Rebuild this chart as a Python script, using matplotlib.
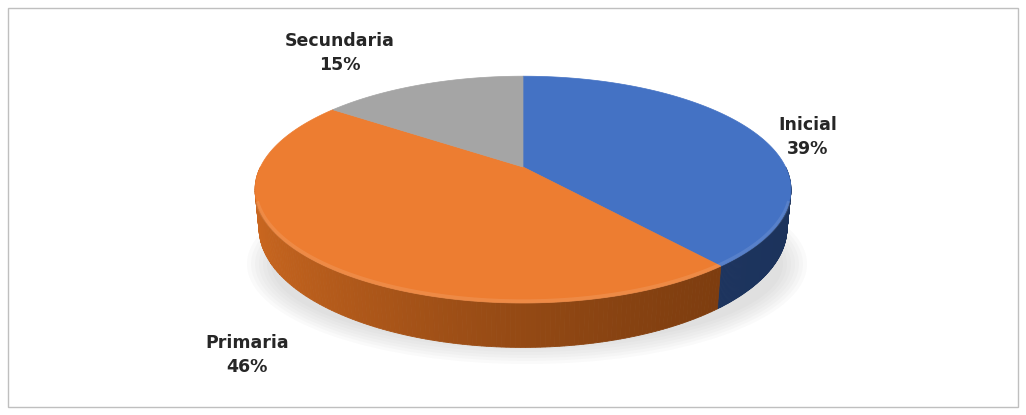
import numpy as np
import matplotlib
matplotlib.use("Agg")
import matplotlib.pyplot as plt
from matplotlib.patches import Polygon, Ellipse, Rectangle
from matplotlib.colors import to_rgb

# data
labels = ["Inicial", "Primaria", "Secundaria"]
shares = [39, 46, 15]
top_colors = ["#4472C4", "#ED7D31", "#A5A5A5"]
side_dark = ["#1C335C", "#783A0E", "#5E5E5E"]
side_light = ["#29477E", "#CC6820", "#8A8A8A"]

# 3d pie view (pixel space): apex, tilt, camera distance, thickness
cx, cy = 523, 167
tilt = np.radians(24.5)
dist = 4.57
focal = 1200
thick = 0.16

fig = plt.figure(figsize=(10.26, 4.15), dpi=100)
ax = fig.add_axes([0, 0, 1, 1])
ax.set_xlim(0, 1026)
ax.set_ylim(415, 0)
ax.axis("off")

# chart border
ax.add_patch(Rectangle((8, 8), 1010, 399, fill=False, ec="#BFBFBF", lw=1))


def proj(t, z=0.0):
    X, Y = np.cos(t), np.sin(t)
    d = dist + Y * np.cos(tilt) - z * np.sin(tilt)
    xs = cx + focal * X / d
    ys = cy - focal * (Y * np.sin(tilt) + z * np.cos(tilt)) / d
    return xs, ys


# soft shadow below the pie
for k in range(7):
    ax.add_patch(Ellipse((cx + 4, 264), 560 - 8 * k, 200 - 6 * k,
                         fc="#7F7F7F", ec="none", alpha=0.035, zorder=1))

# wedge angles: start at top and go clockwise
fr = np.array(shares) / sum(shares)
starts = np.pi / 2 - 2 * np.pi * np.concatenate([[0], np.cumsum(fr)[:-1]])
ends = starts - 2 * np.pi * fr

# side walls (front half only)
quads = []
for i in range(len(shares)):
    a0, a1 = ends[i], starts[i]
    while a1 <= np.pi:
        a0 += 2 * np.pi
        a1 += 2 * np.pi
    while a0 > 2 * np.pi:
        a0 -= 2 * np.pi
        a1 -= 2 * np.pi
    lo, hi = max(a0, np.pi), min(a1, 2 * np.pi)
    if hi <= lo:
        continue
    ts = np.linspace(lo, hi, 150)
    c_dark = np.array(to_rgb(side_dark[i]))
    c_light = np.array(to_rgb(side_light[i]))
    for j in range(len(ts) - 1):
        tt = np.linspace(ts[j], ts[j + 1], 3)
        xs, ys = proj(tt)
        xb, yb = proj(tt[::-1], -thick)
        w = np.clip((1 - np.cos(ts[j])) / 2, 0, 1)
        col = c_dark + (c_light - c_dark) * w ** 1.6
        quads.append((np.sin(ts[j]), np.column_stack([np.r_[xs, xb], np.r_[ys, yb]]), col))

for _, poly, col in sorted(quads, key=lambda q: -q[0]):
    ax.add_patch(Polygon(poly, closed=True, fc=col, ec=col, lw=0.6, zorder=2))

# top surface
for i in range(len(shares)):
    ts = np.linspace(starts[i], ends[i], 200)
    xs, ys = proj(ts)
    poly = np.column_stack([np.r_[cx, xs], np.r_[cy, ys]])
    ax.add_patch(Polygon(poly, closed=True, fc=top_colors[i], ec=top_colors[i],
                         lw=0.5, zorder=3))
    # faint bevel along the front rim
    ts_f = ts[np.sin(ts) < -0.3]
    if len(ts_f) > 1:
        xf, yf = proj(ts_f)
        ax.plot(xf, yf - 1.5, color="white", alpha=0.1, lw=3,
                solid_capstyle="butt", zorder=4)

# labels
label_pos = {"Inicial": (808, 137), "Primaria": (247, 355), "Secundaria": (340, 53)}
for lab, s in zip(labels, shares):
    x, y = label_pos[lab]
    ax.text(x, y, f"{lab}\n{s}%", ha="center", va="center", fontsize=12.5,
            fontweight="bold", color="#262626", linespacing=1.45, zorder=5)

fig.savefig("out.png", dpi=100)
